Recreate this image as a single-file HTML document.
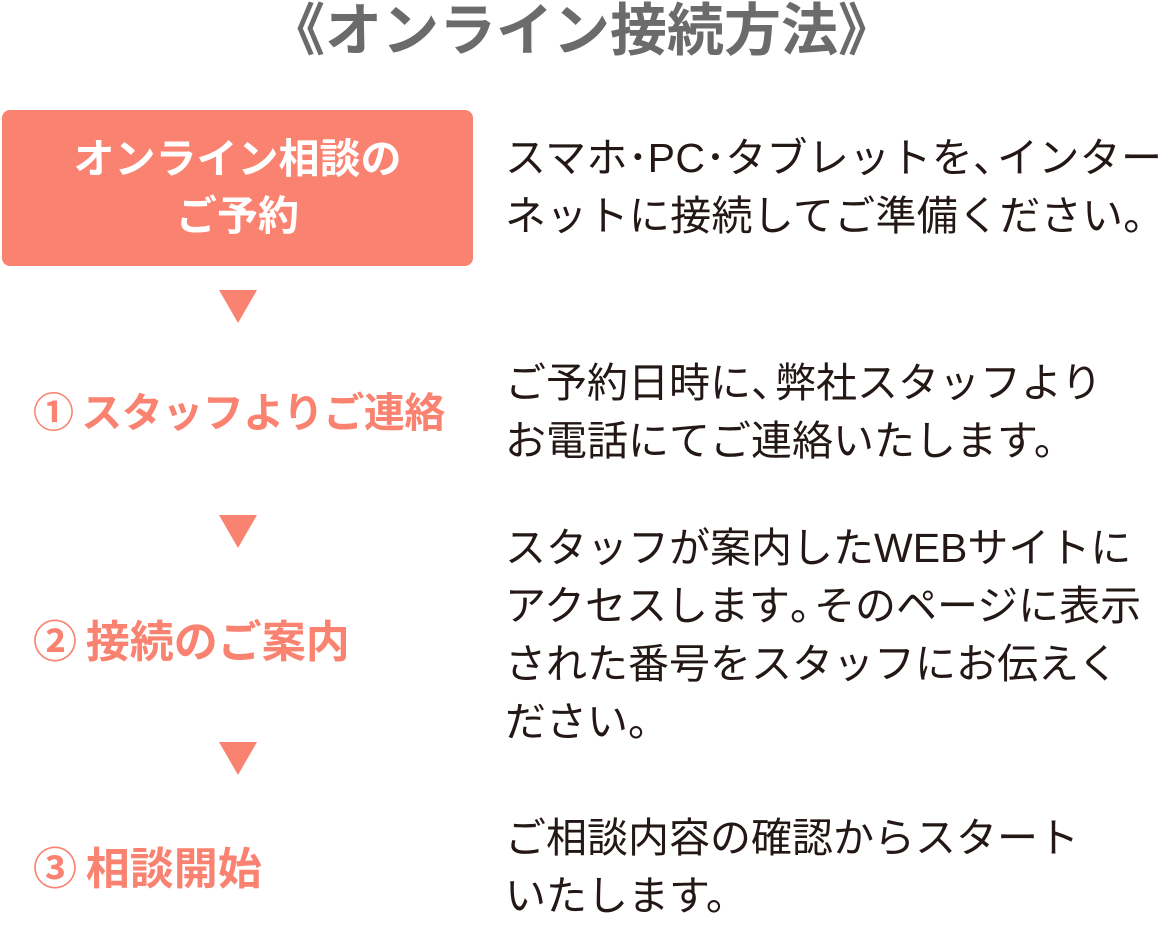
<!DOCTYPE html>
<html><head><meta charset="utf-8"><style>
html,body{margin:0;padding:0;background:#fff;}
body{width:1163px;height:946px;position:relative;overflow:hidden;font-family:"Liberation Sans","Noto Sans CJK JP",sans-serif;}
.a{position:absolute;white-space:nowrap;}
.title{left:0;width:1163px;text-align:center;top:-4px;font-size:57px;font-weight:bold;color:#6b6b6b;line-height:70px;}
.box{left:2px;top:110px;width:471px;height:156px;background:#fa8270;border-radius:8px;color:#fff;font-weight:bold;font-size:41px;text-align:center;line-height:57px;display:flex;flex-direction:column;justify-content:center;}
.tri{width:0;height:0;border-left:19px solid transparent;border-right:19px solid transparent;border-top:33px solid #fa8270;left:219px;}
.step{left:33px;font-size:41px;font-weight:bold;color:#fa8270;line-height:50px;}
.txt{left:505px;font-size:41px;color:#231815;line-height:58px;}
.n{display:inline-block;width:20px;text-align:center;overflow:visible;}
.c{display:inline-block;width:24px;overflow:visible;}
</style></head><body>
<div class="a title">《オンライン接続方法》</div>
<div class="a box"><div>オンライン相談の</div><div>ご予約</div></div>
<div class="a tri" style="top:290px"></div>
<div class="a tri" style="top:515px"></div>
<div class="a tri" style="top:742px"></div>
<div class="a step" style="top:388px;letter-spacing:-0.5px">①&thinsp;スタッフよりご連絡</div>
<div class="a step" style="top:618px;font-size:44px">②&thinsp;接続のご案内</div>
<div class="a step" style="top:845px;font-size:44px">③&thinsp;相談開始</div>
<div class="a txt" style="top:129px;letter-spacing:0.3px">スマホ<span class="n">･</span>PC<span class="n">･</span>タブレットを<span class="c">、</span>インター<br>ネットに接続してご準備ください。</div>
<div class="a txt" style="top:354px">ご予約日時に<span class="c">、</span>弊社スタッフより<br>お電話にてご連絡いたします。</div>
<div class="a txt" style="top:519px">スタッフが案内したWEBサイトに<br>アクセスします<span class="c">。</span>そのページに表示<br>された番号をスタッフにお伝えく<br>ださい。</div>
<div class="a txt" style="top:809px">ご相談内容の確認からスタート<br>いたします。</div>
</body></html>
